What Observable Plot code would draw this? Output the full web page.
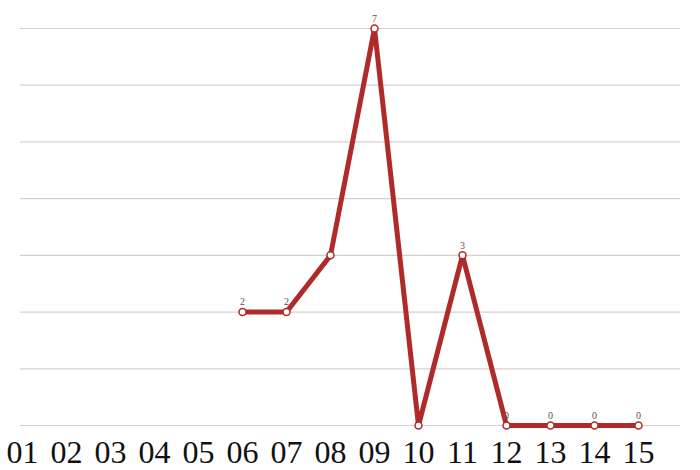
<!DOCTYPE html>
<html><head><meta charset="utf-8">
<script src="https://cdn.jsdelivr.net/npm/d3@7"></script>
<script src="https://cdn.jsdelivr.net/npm/@observablehq/plot@0.6"></script>
<style>body{margin:0;background:#fff}</style>
</head><body><div id="chart"></div>
<script>
const categories = ["01","02","03","04","05","06","07","08","09","10","11","12","13","14","15"];
const values = [null,null,null,null,null,2,2,3,7,0,3,0,0,0,0];
const pointLabels = ["","","","","","2","2","","7","","3","0","0","0","0"];
const yTicks = [0,1,2,3,4,5,6,7];

const data = categories.map((c,i)=>({cat:c, v:values[i], lab:pointLabels[i]}));
const present = data.filter(d=>d.v!==null);

const chart = Plot.plot({
  width:700, height:470,
  marginLeft:20, marginRight:20, marginTop:28, marginBottom:45,
  insetRight:40,
  x:{type:"point", domain:categories, padding:0, label:null},
  y:{domain:[0,7], label:null, ticks:yTicks, axis:null},
  style:{fontFamily:"'Liberation Serif', serif", background:"#fff", overflow:"visible"},
  marks:[
    Plot.ruleY(yTicks, {stroke:"#dccdcd", strokeWidth:1.2}),
    Plot.axisX({tickSize:0, tickPadding:15, fontSize:32, fill:"#111", fontFamily:"'Liberation Serif', serif"}),
    Plot.line(present, {x:"cat", y:"v", stroke:"#b02a2a", strokeWidth:5, strokeLinejoin:"round"}),
    Plot.dot(present, {x:"cat", y:"v", r:3.5, fill:"#fff", stroke:"#b02a2a", strokeWidth:1.5}),
    Plot.text(present, {x:"cat", y:"v", text:"lab", dy:-10, fontSize:10, fill:"#6d4a4a"})
  ]
});
document.getElementById("chart").appendChild(chart);
</script>
</body></html>
